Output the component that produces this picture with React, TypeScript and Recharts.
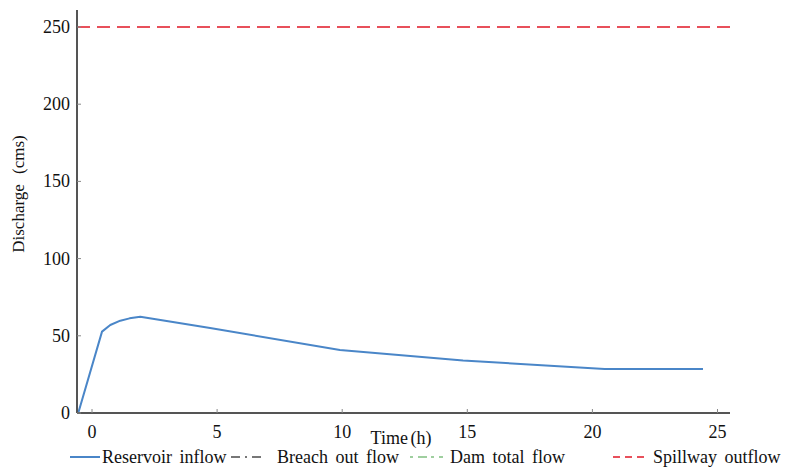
import React from 'react';
import { LineChart, Line, XAxis, YAxis } from 'recharts';

// ---- data ----
const inflowTime = [-0.55, 0.4, 0.73, 1.13, 1.5, 1.93, 4.72, 9.91, 14.83, 20.49, 24.42];
const inflowValue = [0, 52.7, 57.0, 59.8, 61.3, 62.4, 55.0, 40.8, 34.0, 28.5, 28.5];
const spillwayTime = [-0.6, 25.5];
const spillwayValue = [250, 250];
const xTicks = [0, 5, 10, 15, 20, 25];
const yTicks = [0, 50, 100, 150, 200, 250];
const legendLabels = ['Reservoir inflow', 'Breach out flow', 'Dam total flow', 'Spillway outflow'];
const xTitle = 'Time (h)';
const yTitle = 'Discharge (cms)';

const inflowData = inflowTime.map((t, i) => ({ t, v: inflowValue[i] }));
const spillwayData = spillwayTime.map((t, i) => ({ t, v: spillwayValue[i] }));

const FONT = 'Liberation Serif, Times New Roman, Times, serif';
const textStyle: React.CSSProperties = { fontFamily: FONT };

const legendLayout = [
  { x0: 70, x1: 100, tx: 102, color: '#4a86c8', dash: undefined as string | undefined },
  { x0: 231, x1: 262, tx: 277, color: '#777777', dash: '9 5 2 5' },
  { x0: 410, x1: 443, tx: 450, color: '#9fcf9f', dash: '3 5 9 4' },
  { x0: 613, x1: 648, tx: 653, color: '#e8505b', dash: '7 5' },
];

const XTick = (props: any) => {
  const { x, y, payload } = props;
  return (
    <g>
      <line x1={x} y1={y} x2={x} y2={y - 4} stroke="#888" strokeWidth={1} />
      <text x={x} y={y + 25} textAnchor="middle" style={textStyle} fontSize={18} fill="#111">
        {payload.value}
      </text>
    </g>
  );
};

const YTick = (props: any) => {
  const { x, y, payload } = props;
  return (
    <g>
      <line x1={x} y1={y} x2={x + 4} y2={y} stroke="#888" strokeWidth={1} />
      <text x={x - 7} y={y + 6} textAnchor="end" style={textStyle} fontSize={18} fill="#111">
        {payload.value}
      </text>
    </g>
  );
};

export default function App() {
  return (
    <div style={{ position: 'absolute', left: 0, top: 0, width: 792, height: 467, background: '#fff', fontFamily: FONT }}>
      <LineChart
        width={792}
        height={467}
        margin={{ top: 10, right: 62, bottom: 14, left: 0 }}
      >
        <XAxis
          dataKey="t"
          type="number"
          domain={[-0.6, 25.5]}
          ticks={xTicks}
          tickSize={0}
          tickMargin={0}
          tick={<XTick />}
          height={40}
          axisLine={{ stroke: '#555', strokeWidth: 2 }}
          allowDataOverflow
          label={{
            content: () => (
              <text x={401} y={444} textAnchor="middle" style={textStyle} fontSize={18} fill="#111" wordSpacing={-2}>
                {xTitle}
              </text>
            ),
          }}
        />
        <YAxis
          dataKey="v"
          type="number"
          domain={[0, 261]}
          ticks={yTicks}
          tickSize={0}
          tickMargin={0}
          tick={<YTick />}
          width={77}
          axisLine={{ stroke: '#555', strokeWidth: 2 }}
          allowDataOverflow
          label={{
            content: () => (
              <text
                transform="translate(24,194) rotate(-90)"
                textAnchor="middle"
                style={textStyle}
                fontSize={17}
                fill="#111"
                wordSpacing={6}
              >
                {yTitle}
              </text>
            ),
          }}
        />
        <Line
          data={spillwayData}
          dataKey="v"
          type="linear"
          stroke="#e8505b"
          strokeWidth={2}
          strokeDasharray="13 7"
          dot={false}
          isAnimationActive={false}
        />
        <Line
          data={inflowData}
          dataKey="v"
          type="linear"
          stroke="#4a86c8"
          strokeWidth={2}
          strokeLinejoin="round"
          dot={false}
          isAnimationActive={false}
        />
      </LineChart>
      <svg
        width={792}
        height={467}
        style={{ position: 'absolute', left: 0, top: 0, pointerEvents: 'none' }}
      >
        {legendLabels.map((label, i) => {
          const l = legendLayout[i];
          return (
            <g key={label}>
              <line x1={l.x0} y1={457} x2={l.x1} y2={457} stroke={l.color} strokeWidth={2} strokeDasharray={l.dash} />
              <text x={l.tx} y={463} style={textStyle} fontSize={18} fill="#111" wordSpacing={3}>
                {label}
              </text>
            </g>
          );
        })}
      </svg>
    </div>
  );
}
